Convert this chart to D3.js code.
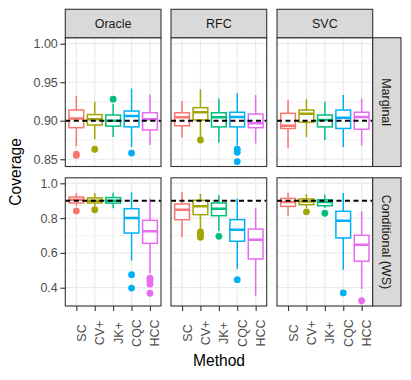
<!DOCTYPE html>
<html>
<head>
<meta charset="utf-8">
<script src="https://cdn.jsdelivr.net/npm/d3@7"></script>
<style>
  body { margin: 0; background: #fff; }
  svg { display: block; font-family: "Liberation Sans", Arial, sans-serif; }
</style>
</head>
<body>
<div id="chart"></div>
<script>
const methods = ["SC", "CV+", "JK+", "CQC", "HCC"];
const models = ["Oracle", "RFC", "SVC"];
const metrics = ["Marginal", "Conditional (WS)"];
const colors = ["#F8766D", "#A3A500", "#00BF7D", "#00B0F6", "#E76BF3"];

// box stats per method: [lower whisker, q1, median, q3, upper whisker]
const marginalOracle = [[0.867, 0.891, 0.903, 0.914, 0.9325], [0.876, 0.8944, 0.902, 0.908, 0.9247], [0.879, 0.893, 0.900, 0.9074, 0.922], [0.866, 0.892, 0.906, 0.9126, 0.942], [0.8685, 0.888, 0.9018, 0.9104, 0.934]];
const marginalRFC = [[0.878, 0.8935, 0.9044, 0.9104, 0.9256], [0.879, 0.901, 0.911, 0.917, 0.9408], [0.8714, 0.892, 0.9044, 0.9104, 0.929], [0.868, 0.892, 0.905, 0.911, 0.9356], [0.8706, 0.891, 0.8966, 0.9087, 0.9334]];
const marginalSVC = [[0.865, 0.890, 0.8935, 0.9096, 0.927], [0.879, 0.898, 0.909, 0.9139, 0.9278], [0.875, 0.892, 0.901, 0.9074, 0.9247], [0.866, 0.890, 0.904, 0.9139, 0.9334], [0.8675, 0.889, 0.905, 0.911, 0.929]];
const conditionalOracle = [[0.87, 0.887, 0.906, 0.921, 0.944], [0.87, 0.887, 0.900, 0.916, 0.944], [0.856, 0.886, 0.900, 0.918, 0.946], [0.555, 0.714, 0.800, 0.854, 0.948], [0.483, 0.655, 0.725, 0.787, 0.912]];
const conditionalRFC = [[0.69, 0.791, 0.848, 0.881, 0.95], [0.733, 0.82, 0.868, 0.902, 0.938], [0.724, 0.814, 0.854, 0.887, 0.931], [0.507, 0.667, 0.733, 0.791, 0.913], [0.354, 0.565, 0.676, 0.737, 0.858]];
const conditionalSVC = [[0.814, 0.867, 0.892, 0.913, 0.945], [0.858, 0.877, 0.896, 0.910, 0.938], [0.858, 0.871, 0.892, 0.905, 0.934], [0.503, 0.686, 0.785, 0.839, 0.944], [0.393, 0.552, 0.647, 0.701, 0.839]];

// outliers per method
const marginalOracleOut = [[0.855, 0.8565], [0.863], [0.928], [0.858], []];
const marginalRFCOut = [[], [0.875], [], [0.863, 0.859, 0.847], []];
const marginalSVCOut = [[], [], [], [], []];
const conditionalOracleOut = [[0.841], [0.848], [], [0.475, 0.398], [0.455, 0.44, 0.42, 0.368]];
const conditionalRFCOut = [[], [0.72, 0.71, 0.70, 0.69], [0.695], [0.446], []];
const conditionalSVCOut = [[], [0.836], [0.828], [0.37], [0.325]];

const marginalTicks = [0.85, 0.90, 0.95, 1.00];
const marginalMinor = [0.875, 0.925, 0.975];
const conditionalTicks = [0.4, 0.6, 0.8, 1.0];
const conditionalMinor = [0.3, 0.5, 0.7, 0.9];
const targetLevel = 0.9;

const boxes = [[marginalOracle, marginalRFC, marginalSVC], [conditionalOracle, conditionalRFC, conditionalSVC]];
const outs = [[marginalOracleOut, marginalRFCOut, marginalSVCOut], [conditionalOracleOut, conditionalRFCOut, conditionalSVCOut]];

const width = 411, height = 380;
const colX = [65.3, 171, 277], panelW = 95.7;
const rowTop = [37.7, 177.8], rowBottom = [166.5, 306];
const stripTop = 9.3, stripRight = 401;
const textSize = "12.5px", titleSize = "15.6px";

const rows = [
  { domain: [0.8406, 1.0078], ticks: marginalTicks, minor: marginalMinor, fmt: d3.format(".2f") },
  { domain: [0.2948, 1.0316], ticks: conditionalTicks, minor: conditionalMinor, fmt: d3.format(".1f") }
];

const svg = d3.select("#chart").append("svg")
  .attr("width", width)
  .attr("height", height);

const defs = svg.append("defs");

rows.forEach((row, r) => {
  const y = d3.scaleLinear().domain(row.domain).range([rowBottom[r], rowTop[r]]);

  models.forEach((model, c) => {
    const x = d3.scalePoint().domain(methods).range([colX[c], colX[c] + panelW]).padding(0.6);
    const bw = x.step() * 0.8;
    const clipId = `clip-${r}-${c}`;
    defs.append("clipPath").attr("id", clipId)
      .append("rect")
      .attr("x", colX[c]).attr("y", rowTop[r])
      .attr("width", panelW).attr("height", rowBottom[r] - rowTop[r]);

    const g = svg.append("g").attr("clip-path", `url(#${clipId})`);

    g.append("rect")
      .attr("x", colX[c]).attr("y", rowTop[r])
      .attr("width", panelW).attr("height", rowBottom[r] - rowTop[r])
      .attr("fill", "#fff");

    // minor grid
    g.selectAll(".minor").data(row.minor).enter().append("line")
      .attr("x1", colX[c]).attr("x2", colX[c] + panelW)
      .attr("y1", d => y(d)).attr("y2", d => y(d))
      .attr("stroke", "#EBEBEB").attr("stroke-width", 0.6);

    // major grid
    g.selectAll(".major").data(row.ticks).enter().append("line")
      .attr("x1", colX[c]).attr("x2", colX[c] + panelW)
      .attr("y1", d => y(d)).attr("y2", d => y(d))
      .attr("stroke", "#EBEBEB").attr("stroke-width", 1.2);

    g.selectAll(".vmajor").data(methods).enter().append("line")
      .attr("x1", d => x(d)).attr("x2", d => x(d))
      .attr("y1", rowTop[r]).attr("y2", rowBottom[r])
      .attr("stroke", "#EBEBEB").attr("stroke-width", 1.2);

    // boxplots
    const stats = boxes[r][c];
    methods.forEach((m, i) => {
      const [lo, q1, med, q3, hi] = stats[i];
      const cx = x(m), col = colors[i];
      const bg = g.append("g");
      bg.selectAll("circle").data(outs[r][c][i]).enter().append("circle")
        .attr("cx", cx).attr("cy", d => y(d)).attr("r", 3.4)
        .attr("fill", col);
      bg.append("line").attr("x1", cx).attr("x2", cx)
        .attr("y1", y(hi)).attr("y2", y(q3))
        .attr("stroke", col).attr("stroke-width", 1.5);
      bg.append("line").attr("x1", cx).attr("x2", cx)
        .attr("y1", y(q1)).attr("y2", y(lo))
        .attr("stroke", col).attr("stroke-width", 1.5);
      bg.append("rect")
        .attr("x", cx - bw / 2).attr("width", bw)
        .attr("y", y(q3)).attr("height", y(q1) - y(q3))
        .attr("fill", "#fff").attr("stroke", col).attr("stroke-width", 1.5);
      bg.append("line")
        .attr("x1", cx - bw / 2).attr("x2", cx + bw / 2)
        .attr("y1", y(med)).attr("y2", y(med))
        .attr("stroke", col).attr("stroke-width", 2.5);
    });

    // target coverage line
    g.append("line")
      .attr("x1", colX[c]).attr("x2", colX[c] + panelW)
      .attr("y1", y(targetLevel)).attr("y2", y(targetLevel))
      .attr("stroke", "#000").attr("stroke-width", 1.9)
      .attr("stroke-dasharray", "5,3.5");

    // panel border
    svg.append("rect")
      .attr("x", colX[c]).attr("y", rowTop[r])
      .attr("width", panelW).attr("height", rowBottom[r] - rowTop[r])
      .attr("fill", "none").attr("stroke", "#333").attr("stroke-width", 1.1);

    // y axis on first column
    if (c === 0) {
      const ya = svg.append("g")
        .attr("transform", `translate(${colX[0]},0)`)
        .call(d3.axisLeft(y).tickValues(row.ticks).tickFormat(row.fmt).tickSize(5).tickPadding(2.5));
      ya.select(".domain").remove();
      ya.selectAll("line").attr("stroke", "#333").attr("stroke-width", 1.1);
      ya.selectAll("text").attr("fill", "#4D4D4D").style("font-size", textSize);
    }

    // x axis on bottom row
    if (r === 1) {
      const xa = svg.append("g")
        .attr("transform", `translate(0,${rowBottom[1]})`)
        .call(d3.axisBottom(x).tickSize(5));
      xa.select(".domain").remove();
      xa.selectAll("line").attr("stroke", "#333").attr("stroke-width", 1.1);
      xa.selectAll("text")
        .attr("fill", "#4D4D4D").style("font-size", textSize)
        .attr("transform", "rotate(-90)")
        .attr("text-anchor", "middle")
        .attr("x", -27).attr("y", 0).attr("dy", "0.72em");
    }
  });

  // right strip
  svg.append("rect")
    .attr("x", colX[2] + panelW).attr("y", rowTop[r])
    .attr("width", stripRight - colX[2] - panelW).attr("height", rowBottom[r] - rowTop[r])
    .attr("fill", "#D9D9D9").attr("stroke", "#333").attr("stroke-width", 1.1);
  const sx = (colX[2] + panelW + stripRight) / 2, sy = (rowTop[r] + rowBottom[r]) / 2;
  svg.append("text")
    .attr("transform", `translate(${sx},${sy}) rotate(90)`)
    .attr("text-anchor", "middle").attr("dy", "0.36em")
    .attr("fill", "#1A1A1A").style("font-size", textSize)
    .text(metrics[r]);
});

// top strips
models.forEach((model, c) => {
  svg.append("rect")
    .attr("x", colX[c]).attr("y", stripTop)
    .attr("width", panelW).attr("height", rowTop[0] - stripTop)
    .attr("fill", "#D9D9D9").attr("stroke", "#333").attr("stroke-width", 1.1);
  svg.append("text")
    .attr("x", colX[c] + panelW / 2).attr("y", (stripTop + rowTop[0]) / 2)
    .attr("text-anchor", "middle").attr("dy", "0.36em")
    .attr("fill", "#1A1A1A").style("font-size", textSize)
    .text(model);
});

// axis titles
svg.append("text")
  .attr("transform", `translate(21,${(rowTop[0] + rowBottom[1]) / 2}) rotate(-90)`)
  .attr("text-anchor", "middle")
  .attr("fill", "#000").style("font-size", titleSize)
  .text("Coverage");

svg.append("text")
  .attr("x", (colX[0] + colX[2] + panelW) / 2).attr("y", 366)
  .attr("text-anchor", "middle")
  .attr("fill", "#000").style("font-size", titleSize)
  .text("Method");
</script>
</body>
</html>
